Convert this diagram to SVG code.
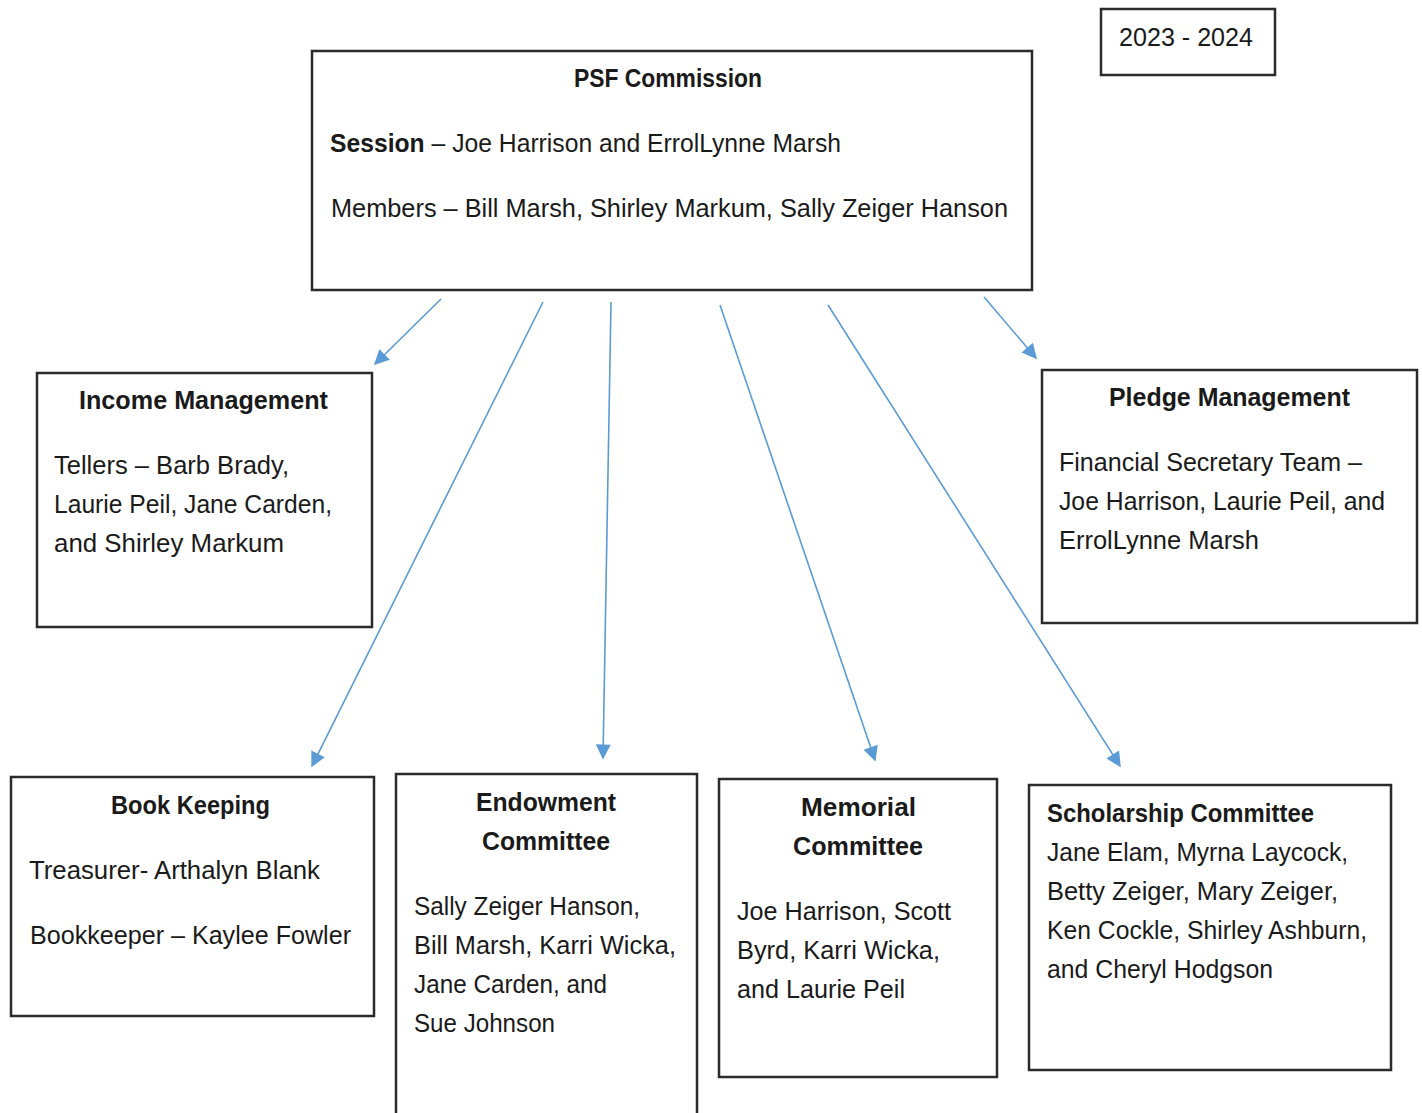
<svg xmlns="http://www.w3.org/2000/svg" width="1422" height="1113" viewBox="0 0 1422 1113">
<style>
.box{fill:#fff;stroke:#2b2b2b;stroke-width:2.5}
text{font-family:"Liberation Sans",Arial,sans-serif;font-size:25px;fill:#1a1a1a}
.b{font-weight:bold}
.c{stroke:#5b9bd5;stroke-width:1.6;fill:none}
</style>
<defs>
<marker id="ah" viewBox="0 0 10 10" refX="9" refY="5" markerWidth="17" markerHeight="15" markerUnits="userSpaceOnUse" orient="auto"><path d="M0,0 L10,5 L0,10 z" fill="#5b9bd5"/></marker>
</defs>
<rect width="1422" height="1113" fill="#fff"/>
<g id="connectors">
<line class="c" x1="441" y1="299" x2="375" y2="364" marker-end="url(#ah)"/>
<line class="c" x1="543" y1="302" x2="312" y2="766" marker-end="url(#ah)"/>
<line class="c" x1="611" y1="302" x2="603" y2="758" marker-end="url(#ah)"/>
<line class="c" x1="720" y1="305" x2="875" y2="760" marker-end="url(#ah)"/>
<line class="c" x1="828" y1="305" x2="1120" y2="766" marker-end="url(#ah)"/>
<line class="c" x1="984" y1="297" x2="1036" y2="358" marker-end="url(#ah)"/>
</g>
<g id="year">
<rect class="box" x="1101" y="9" width="174" height="66"/>
<text x="1119" y="46" textLength="134" lengthAdjust="spacingAndGlyphs">2023 - 2024</text>
</g>
<g id="psf">
<rect class="box" x="312" y="51" width="720" height="239"/>
<text class="b" x="574" y="87" textLength="188" lengthAdjust="spacingAndGlyphs">PSF Commission</text>
<text x="330" y="152" textLength="511" lengthAdjust="spacingAndGlyphs"><tspan class="b">Session</tspan> – Joe Harrison and ErrolLynne Marsh</text>
<text x="331" y="217" textLength="677" lengthAdjust="spacingAndGlyphs">Members – Bill Marsh, Shirley Markum, Sally Zeiger Hanson</text>
</g>
<g id="income">
<rect class="box" x="37" y="373" width="335" height="254"/>
<text class="b" x="79" y="409" textLength="249" lengthAdjust="spacingAndGlyphs">Income Management</text>
<text x="54" y="474" textLength="235" lengthAdjust="spacingAndGlyphs">Tellers – Barb Brady,</text>
<text x="54" y="513" textLength="278" lengthAdjust="spacingAndGlyphs">Laurie Peil, Jane Carden,</text>
<text x="54" y="552" textLength="230" lengthAdjust="spacingAndGlyphs">and Shirley Markum</text>
</g>
<g id="pledge">
<rect class="box" x="1042" y="370" width="375" height="253"/>
<text class="b" x="1109" y="406" textLength="241" lengthAdjust="spacingAndGlyphs">Pledge Management</text>
<text x="1059" y="471" textLength="303" lengthAdjust="spacingAndGlyphs">Financial Secretary Team –</text>
<text x="1059" y="510" textLength="326" lengthAdjust="spacingAndGlyphs">Joe Harrison, Laurie Peil, and</text>
<text x="1059" y="549" textLength="200" lengthAdjust="spacingAndGlyphs">ErrolLynne Marsh</text>
</g>
<g id="bookkeeping">
<rect class="box" x="11" y="777" width="363" height="239"/>
<text class="b" x="111" y="814" textLength="159" lengthAdjust="spacingAndGlyphs">Book Keeping</text>
<text x="29" y="879" textLength="291" lengthAdjust="spacingAndGlyphs">Treasurer- Arthalyn Blank</text>
<text x="30" y="944" textLength="321" lengthAdjust="spacingAndGlyphs">Bookkeeper – Kaylee Fowler</text>
</g>
<g id="endowment">
<rect class="box" x="396" y="774" width="301" height="345"/>
<text class="b" x="476" y="811" textLength="140" lengthAdjust="spacingAndGlyphs">Endowment</text>
<text class="b" x="482" y="850" textLength="128" lengthAdjust="spacingAndGlyphs">Committee</text>
<text x="414" y="915" textLength="226" lengthAdjust="spacingAndGlyphs">Sally Zeiger Hanson,</text>
<text x="414" y="954" textLength="262" lengthAdjust="spacingAndGlyphs">Bill Marsh, Karri Wicka,</text>
<text x="414" y="993" textLength="193" lengthAdjust="spacingAndGlyphs">Jane Carden, and</text>
<text x="414" y="1032" textLength="141" lengthAdjust="spacingAndGlyphs">Sue Johnson</text>
</g>
<g id="memorial">
<rect class="box" x="719" y="779" width="278" height="298"/>
<text class="b" x="801" y="816" textLength="115" lengthAdjust="spacingAndGlyphs">Memorial</text>
<text class="b" x="793" y="855" textLength="130" lengthAdjust="spacingAndGlyphs">Committee</text>
<text x="737" y="920" textLength="214" lengthAdjust="spacingAndGlyphs">Joe Harrison, Scott</text>
<text x="737" y="959" textLength="203" lengthAdjust="spacingAndGlyphs">Byrd, Karri Wicka,</text>
<text x="737" y="998" textLength="168" lengthAdjust="spacingAndGlyphs">and Laurie Peil</text>
</g>
<g id="scholarship">
<rect class="box" x="1029" y="785" width="362" height="285"/>
<text class="b" x="1047" y="822" textLength="267" lengthAdjust="spacingAndGlyphs">Scholarship Committee</text>
<text x="1047" y="861" textLength="301" lengthAdjust="spacingAndGlyphs">Jane Elam, Myrna Laycock,</text>
<text x="1047" y="900" textLength="291" lengthAdjust="spacingAndGlyphs">Betty Zeiger, Mary Zeiger,</text>
<text x="1047" y="939" textLength="320" lengthAdjust="spacingAndGlyphs">Ken Cockle, Shirley Ashburn,</text>
<text x="1047" y="978" textLength="226" lengthAdjust="spacingAndGlyphs">and Cheryl Hodgson</text>
</g>
</svg>
